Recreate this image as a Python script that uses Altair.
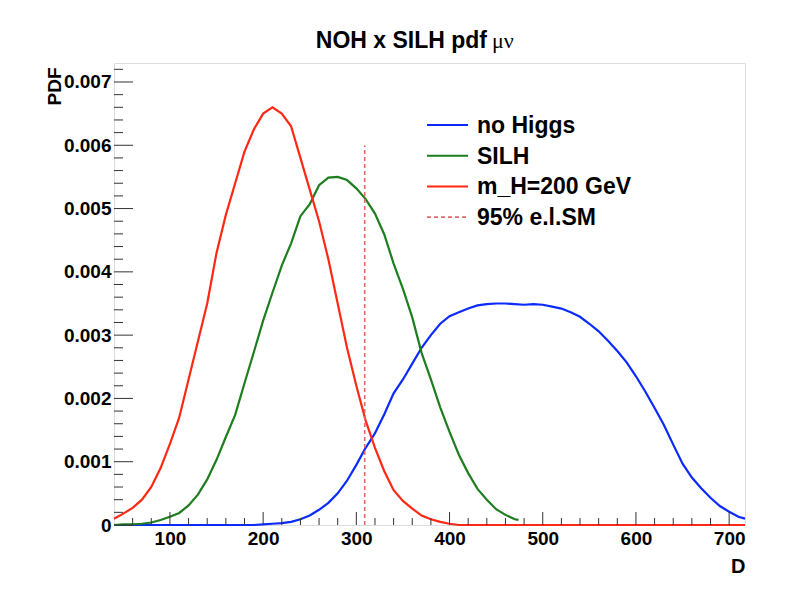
import altair as alt
import pandas as pd

# ---------------- data ----------------
SERIES = ["no Higgs", "SILH", "m_H=200 GeV", "95% e.l.SM"]
COLORS = ["#0a2aff", "#1e7d1e", "#ff2814", "#e06a6a"]

BLUE_X = list(range(40, 711, 10)) + [717]
BLUE_Y = [0, 0, 0, 0, 0, 0, 0, 0, 0, 0, 0, 0, 0, 0, 0, 0,          # 40..190
          0.00001, 0.00002, 0.00003, 0.00005, 0.00009, 0.00015, 0.00024, 0.00035,  # 200..270
          0.00050, 0.00070, 0.00095, 0.00122, 0.00145, 0.00175, 0.00208, 0.00230,  # 280..350
          0.00255, 0.00280, 0.00300, 0.00318, 0.00330, 0.00336, 0.00342, 0.00347,  # 360..430
          0.00349, 0.00350, 0.00350, 0.00349, 0.00348, 0.00349, 0.00348, 0.00345,  # 440..510
          0.00342, 0.00336, 0.00329, 0.00318, 0.00306, 0.00291, 0.00275, 0.00257,  # 520..590
          0.00235, 0.00211, 0.00185, 0.00158, 0.00127, 0.00097, 0.00075, 0.00058,  # 600..670
          0.00043, 0.00030, 0.00021, 0.00013, 0.00010]                            # 680..717

GREEN_X = list(range(40, 471, 10)) + [474]
GREEN_Y = [0.0, 0.00001, 0.00001, 0.00002, 0.00004, 0.00008, 0.00013, 0.00019,   # 40..110
           0.00031, 0.00048, 0.00072, 0.00103, 0.00139, 0.00174, 0.00224, 0.00273,  # 120..190
           0.00323, 0.00367, 0.00410, 0.00445, 0.00488, 0.00507, 0.00537, 0.00549,  # 200..270
           0.00550, 0.00545, 0.00532, 0.00515, 0.00492, 0.00459, 0.00413, 0.00373,  # 280..350
           0.00328, 0.00272, 0.00230, 0.00186, 0.00147, 0.00111, 0.00082, 0.00057,  # 360..430
           0.00040, 0.00025, 0.00016, 0.00009, 0.00008]                            # 440..474

RED_X = list(range(40, 411, 10)) + [717]
RED_Y = [0.00010, 0.00018, 0.00027, 0.00040, 0.00060, 0.00090, 0.00128, 0.00170,  # 40..110
         0.00230, 0.00290, 0.00350, 0.00430, 0.00490, 0.00540, 0.00590, 0.00625,  # 120..190
         0.00650, 0.00660, 0.00650, 0.00630, 0.00580, 0.00530, 0.00480, 0.00420,  # 200..270
         0.00350, 0.00280, 0.00220, 0.00165, 0.00122, 0.00085, 0.00055, 0.00038,  # 280..350
         0.00026, 0.00015, 0.00009, 0.00005, 0.00002, 0.0, 0.0]                  # 360..410, 717

CUT_X = [309]
CUT_TOP = [0.006]

X_MAJOR = [100, 200, 300, 400, 500, 600, 700]
X_MINOR = [v for v in range(60, 717, 20) if v % 100 != 0]
Y_MAJOR = [0, 0.001, 0.002, 0.003, 0.004, 0.005, 0.006, 0.007]
Y_MINOR = [i / 5000 for i in range(1, 37) if i % 5 != 0]

TITLE_MAIN = "NOH x SILH pdf"
TITLE_GREEK = "\u03bc\u03bd"

# ---------------- layout / style ----------------
W, H = 631, 462
FONT = "Liberation Sans"
xscale = alt.Scale(domain=[40, 717], nice=False, zero=False)
yscale = alt.Scale(domain=[0, 0.0073], nice=False, zero=False)
cscale = alt.Scale(domain=SERIES, range=COLORS)

x_axis = alt.Axis(values=X_MAJOR, format="d", ticks=False, tickSize=0, domain=False, grid=False,
                  labelFont=FONT, labelFontWeight="bold", labelFontSize=19, labelColor="black",
                  labelPadding=4, title="D", titleFont=FONT, titleFontWeight="bold",
                  titleFontSize=20, titleColor="black", titleX=W, titleY=47,
                  titleAlign="right", titleBaseline="alphabetic", labelFlush=False)
y_axis = alt.Axis(values=Y_MAJOR, ticks=False, tickSize=0, domain=False, grid=False,
                  labelExpr="datum.value == 0 ? '0' : format(datum.value, '.3f')",
                  labelFont=FONT, labelFontWeight="bold", labelFontSize=19, labelColor="black",
                  labelPadding=3, title="PDF", titleFont=FONT, titleFontWeight="bold",
                  titleFontSize=19, titleColor="black", titleAngle=270, titleX=-54, titleY=4,
                  titleAlign="right", titleBaseline="alphabetic", labelFlush=False)


def X():
    return alt.X("x:Q", scale=xscale, axis=x_axis, title="D")


def Y():
    return alt.Y("y:Q", scale=yscale, axis=y_axis, title="PDF")


def series_df(xs, ys, name):
    return pd.DataFrame({"x": xs, "y": ys, "series": name})


layers = []

# histogram curves (blue first, red on top)
for i, (xs, ys) in enumerate([(BLUE_X, BLUE_Y), (GREEN_X, GREEN_Y), (RED_X, RED_Y)]):
    df = series_df(xs, ys, SERIES[i])
    layers.append(
        alt.Chart(df).mark_line(strokeWidth=2.2, interpolate="linear").encode(
            x=X(), y=Y(),
            color=alt.Color("series:N", scale=cscale, legend=None),
        )
    )

# 95% exclusion line
cut_df = pd.DataFrame({"x": CUT_X, "y": [0.0], "y2": CUT_TOP, "series": SERIES[3]})
layers.append(
    alt.Chart(cut_df).mark_rule(strokeWidth=1.6, strokeDash=[4, 3]).encode(
        x=X(), y=Y(), y2="y2:Q",
        color=alt.Color("series:N", scale=cscale, legend=None),
    )
)

# inward ticks (ROOT style)
TICK_COLOR = "#333333"
for vals, ln in [(X_MAJOR, 13), (X_MINOR, 7)]:
    layers.append(
        alt.Chart(pd.DataFrame({"x": vals})).mark_rule(color=TICK_COLOR, strokeWidth=1).encode(
            x=X(), y=alt.value(H), y2=alt.value(H - ln),
        )
    )
for vals, ln in [(Y_MAJOR, 19), (Y_MINOR, 9)]:
    layers.append(
        alt.Chart(pd.DataFrame({"y": vals})).mark_rule(color=TICK_COLOR, strokeWidth=1).encode(
            y=Y(), x=alt.value(0), x2=alt.value(ln),
        )
    )

# legend (manual, ROOT TLegend style)
LEG_X0, LEG_X1, LEG_TX = 313, 354, 363
for i, name in enumerate(SERIES):
    ly = 62 + 30.7 * i
    ldf = pd.DataFrame({"series": [name]})
    dash = [4, 3] if i == 3 else [1, 0]
    layers.append(
        alt.Chart(ldf).mark_rule(strokeWidth=2 if i < 3 else 1.6, strokeDash=dash).encode(
            x=alt.value(LEG_X0), x2=alt.value(LEG_X1), y=alt.value(ly),
            color=alt.Color("series:N", scale=cscale, legend=None),
        )
    )
    layers.append(
        alt.Chart(ldf).mark_text(align="left", baseline="middle", font=FONT, fontWeight="bold",
                                 fontSize=23, color="black").encode(
            x=alt.value(LEG_TX), y=alt.value(ly + 1), text="series:N",
        )
    )

# title
layers.append(
    alt.Chart(pd.DataFrame({"t": [TITLE_MAIN]})).mark_text(
        align="right", baseline="alphabetic", font=FONT, fontWeight="bold", fontSize=23, color="black"
    ).encode(x=alt.value(373), y=alt.value(-15), text="t:N")
)
layers.append(
    alt.Chart(pd.DataFrame({"t": [TITLE_GREEK]})).mark_text(
        align="left", baseline="alphabetic", font="Liberation Serif", fontWeight="normal",
        fontSize=22, color="black"
    ).encode(x=alt.value(378), y=alt.value(-15), text="t:N")
)

chart = (
    alt.layer(*layers)
    .properties(width=W, height=H, autosize="none",
                padding={"left": 106, "top": 55, "right": 54, "bottom": 70})
    .configure_view(stroke="#333333", strokeWidth=1)
    .configure(background="white")
)

chart.save("out.html", embed_options={"renderer": "svg", "actions": False})
